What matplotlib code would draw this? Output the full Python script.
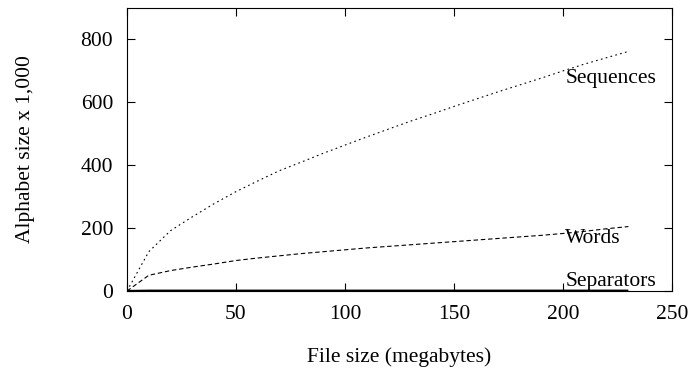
import matplotlib
matplotlib.use('Agg')
import matplotlib.pyplot as plt

plt.rcParams.update({
    'font.family': 'Liberation Serif',
    'font.size': 15.5,
    'axes.linewidth': 0.8,
})

# file size in megabytes
file_mb = [0, 10, 20, 30, 40, 50, 60, 70, 80, 90, 100, 110, 120,
           130, 140, 150, 160, 170, 180, 190, 200, 210, 220, 230]
# alphabet sizes (thousands)
sequences = [0, 125, 192, 236, 278, 316, 350, 383, 410, 438, 464, 490,
             515, 540, 563, 587, 610, 633, 655, 677, 700, 722, 742, 762]
words = [0, 50, 65, 76, 86, 97, 105, 112, 119, 125, 131, 137, 142,
         147, 152, 157, 162, 167, 172, 177, 183, 190, 198, 205]
separators = [0, 1, 1, 1, 1, 1, 1, 1, 1, 1, 1, 1, 1,
              1, 1, 1, 1, 1, 1, 1, 1, 1, 1, 1]

x_ticks = [0, 50, 100, 150, 200, 250]
y_ticks = [0, 200, 400, 600, 800]

fig = plt.figure(figsize=(6.95, 3.71), dpi=100)
ax = fig.add_axes([0.1827, 0.2156, 0.7842, 0.7628])

ax.plot(file_mb, sequences, color='black', linewidth=0.8, linestyle=(0, (1.5, 3)))
ax.plot(file_mb, words, color='black', linewidth=0.8, linestyle=(0, (4, 2.5)))
ax.plot(file_mb, separators, color='black', linewidth=1.6, solid_capstyle='butt')

ax.text(201, 677, 'Sequences', ha='left', va='center')
ax.text(201, 168, 'Words', ha='left', va='center')
ax.text(201, 30, 'Separators', ha='left', va='center')

ax.set_xlim(0, 250)
ax.set_ylim(0, 900)
ax.set_xticks(x_ticks)
ax.set_yticks(y_ticks)
ax.tick_params(direction='in', length=6, width=0.8, top=True, right=True, pad=10)

ax.set_xlabel('File size (megabytes)', labelpad=17)
ax.set_ylabel('Alphabet size x 1,000', labelpad=33)

fig.savefig('out.png', dpi=100)
